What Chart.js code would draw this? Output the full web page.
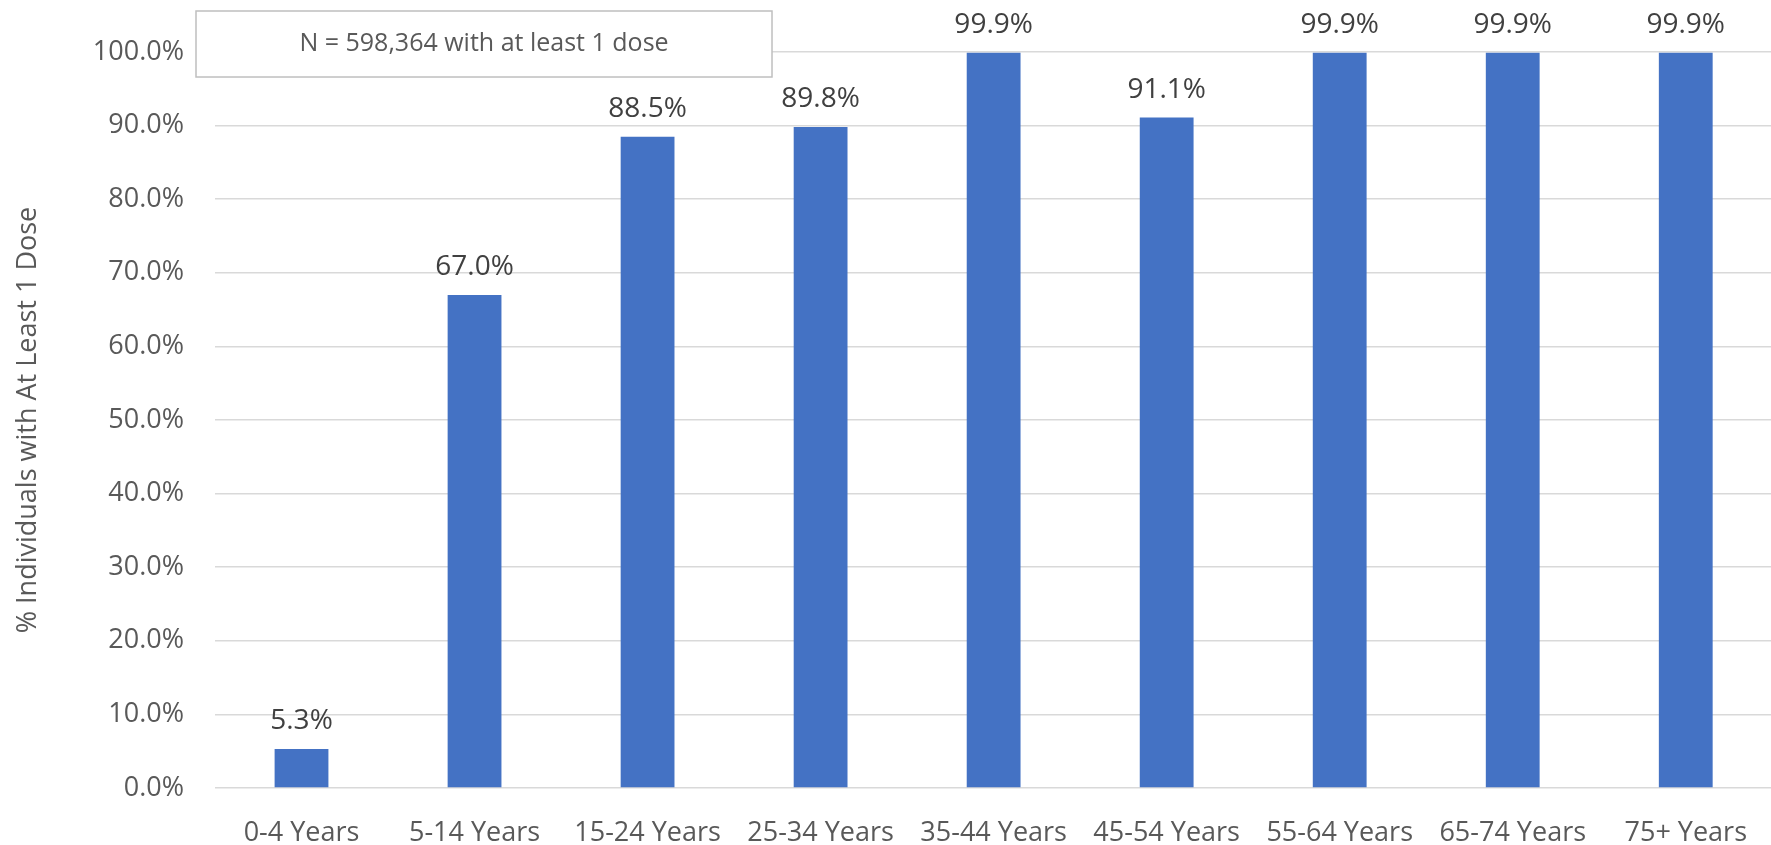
<!DOCTYPE html>
<html>
<head>
<meta charset="utf-8">
<script src="https://cdn.jsdelivr.net/npm/chart.js@4/dist/chart.umd.min.js"></script>
<style>
  html, body { margin: 0; padding: 0; background: #fff; overflow: hidden; }
  #wrap { width: 1771px; height: 845px; position: relative; overflow: hidden; }
</style>
</head>
<body>
<div id="wrap"><canvas id="c" width="1776" height="845"></canvas></div>
<script>
const categories = ["0-4 Years", "5-14 Years", "15-24 Years", "25-34 Years", "35-44 Years", "45-54 Years", "55-64 Years", "65-74 Years", "75+ Years"];
const values = [5.3, 67.0, 88.5, 89.8, 99.9, 91.1, 99.9, 99.9, 99.9];
const yTicks = [0, 10, 20, 30, 40, 50, 60, 70, 80, 90, 100];
const axisTitle = "% Individuals with At Least 1 Dose";
const noteText = "N = 598,364 with at least 1 dose";

const FONT = "'Open Sans', 'DejaVu Sans', sans-serif";

const dataLabels = {
  id: 'dataLabels',
  afterDatasetsDraw(chart) {
    const ctx = chart.ctx;
    const meta = chart.getDatasetMeta(0);
    ctx.save();
    ctx.font = "28px " + FONT;
    ctx.fillStyle = "#404040";
    ctx.textAlign = "center";
    ctx.textBaseline = "alphabetic";
    meta.data.forEach((bar, i) => {
      ctx.fillText(values[i].toFixed(1) + "%", bar.x, bar.y - 20);
    });
    ctx.restore();
  }
};

const noteBox = {
  id: 'noteBox',
  afterDraw(chart) {
    const ctx = chart.ctx;
    const x0 = 196, y0 = 11, x1 = 772, y1 = 77;
    ctx.save();
    ctx.fillStyle = "#ffffff";
    ctx.fillRect(x0, y0, x1 - x0, y1 - y0);
    ctx.strokeStyle = "#bfbfbf";
    ctx.lineWidth = 1.5;
    ctx.strokeRect(x0, y0, x1 - x0, y1 - y0);
    ctx.font = "25px " + FONT;
    ctx.fillStyle = "#595959";
    ctx.textAlign = "center";
    ctx.textBaseline = "middle";
    ctx.fillText(noteText, (x0 + x1) / 2, (y0 + y1) / 2);
    ctx.restore();
  }
};

new Chart(document.getElementById('c'), {
  type: 'bar',
  data: {
    labels: categories,
    datasets: [{
      data: values,
      backgroundColor: '#4472c4',
      borderWidth: 0,
      barPercentage: 0.311,
      categoryPercentage: 1.0
    }]
  },
  options: {
    responsive: false,
    animation: false,
    devicePixelRatio: 1,
    layout: { padding: { top: 52, right: 0, bottom: 0, left: 0 } },
    plugins: { legend: { display: false }, tooltip: { enabled: false } },
    scales: {
      x: {
        grid: { display: false, drawTicks: false },
        border: { display: false },
        ticks: { color: '#595959', font: { family: FONT, size: 27 }, padding: 29, maxRotation: 0, autoSkip: false },
        afterFit(s) { s.height = 57; }
      },
      y: {
        min: 0, max: 100,
        afterBuildTicks(s) { s.ticks = yTicks.map(v => ({ value: v })); },
        grid: { color: '#d9d9d9', lineWidth: 1.5, drawTicks: false },
        border: { display: false },
        ticks: {
          color: '#595959',
          font: { family: FONT, size: 27 },
          padding: 31,
          callback: v => Number(v).toFixed(1) + '%'
        },
        title: {
          display: true,
          text: axisTitle,
          color: '#595959',
          font: { family: FONT, size: 27 },
          padding: { top: 12, bottom: 0 }
        },
        afterFit(s) { s.width = 215; }
      }
    }
  },
  plugins: [dataLabels, noteBox]
});
</script>
</body>
</html>
